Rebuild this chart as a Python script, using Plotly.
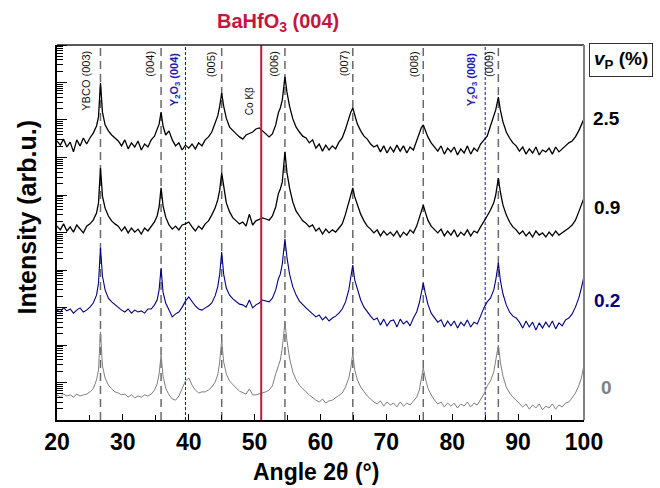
import numpy as np
import plotly.graph_objects as go

# 2-theta sampling (degrees), shared by every scan
TWO_THETA = [
    20.0, 20.5, 21.0, 21.5, 22.0, 22.5, 23.0, 23.5, 24.0, 24.5,
    25.0, 25.5, 26.0, 26.3, 26.6, 26.9, 27.3, 27.8, 28.3, 28.8,
    29.3, 29.8, 30.3, 30.8, 31.3, 31.8, 32.3, 32.8, 33.3, 33.8,
    34.3, 34.8, 35.2, 35.5, 35.8, 36.1, 36.5, 37.0, 37.5, 38.0,
    38.5, 39.0, 39.5, 40.0, 40.5, 41.0, 41.5, 42.0, 42.5, 43.0,
    43.5, 44.0, 44.4, 44.7, 45.0, 45.3, 45.7, 46.2, 46.7, 47.2,
    47.7, 48.2, 48.7, 49.2, 49.7, 50.2, 50.7, 51.2, 51.7, 52.2,
    52.7, 53.2, 53.6, 53.9, 54.2, 54.6, 54.9, 55.3, 55.8, 56.3,
    56.8, 57.3, 57.8, 58.3, 58.8, 59.3, 59.8, 60.3, 60.8, 61.3,
    61.8, 62.3, 62.8, 63.3, 63.8, 64.3, 64.6, 64.9, 65.2, 65.6,
    66.1, 66.6, 67.1, 67.6, 68.1, 68.6, 69.1, 69.6, 70.1, 70.6,
    71.1, 71.6, 72.1, 72.6, 73.1, 73.6, 74.1, 74.6, 75.0, 75.3,
    75.6, 75.9, 76.3, 76.8, 77.3, 77.8, 78.3, 78.8, 79.3, 79.8,
    80.3, 80.8, 81.3, 81.8, 82.3, 82.8, 83.3, 83.8, 84.3, 84.8,
    85.3, 85.8, 86.3, 86.6, 87.0, 87.3, 87.7, 88.2, 88.7, 89.2,
    89.7, 90.2, 90.7, 91.2, 91.7, 92.2, 92.7, 93.2, 93.7, 94.2,
    94.7, 95.2, 95.7, 96.2, 96.7, 97.2, 97.7, 98.2, 98.7, 99.2,
    99.6, 100.0,
]

# log10 intensity of each scan (before vertical stacking)
LOG_I_VP_0 = [
    1.67, 1.61, 1.69, 1.64, 1.67, 1.61, 1.69, 1.64, 1.67, 1.69,
    1.75, 1.83, 2.07, 2.33, 3.35, 2.44, 2.12, 1.93, 1.83, 1.75,
    1.72, 1.67, 1.69, 1.61, 1.67, 1.59, 1.64, 1.61, 1.67, 1.64,
    1.69, 1.80, 1.96, 2.23, 2.73, 2.17, 1.85, 1.67, 1.56, 1.53,
    1.64, 1.83, 2.04, 2.12, 1.93, 1.80, 1.72, 1.75, 1.75, 1.80,
    1.88, 2.01, 2.20, 2.55, 3.13, 2.55, 2.23, 2.04, 1.93, 1.85,
    1.77, 1.72, 1.69, 1.83, 1.67, 1.67, 1.69, 1.72, 1.75, 1.80,
    1.91, 2.23, 2.44, 2.60, 2.92, 3.61, 3.13, 2.65, 2.28, 2.07,
    1.93, 1.83, 1.75, 1.67, 1.59, 1.53, 1.48, 1.56, 1.45, 1.51,
    1.53, 1.59, 1.64, 1.72, 1.88, 2.12, 2.39, 2.79, 2.33, 2.07,
    1.88, 1.75, 1.64, 1.56, 1.48, 1.43, 1.51, 1.37, 1.48, 1.40,
    1.45, 1.35, 1.48, 1.37, 1.45, 1.40, 1.51, 1.61, 1.80, 2.07,
    2.39, 2.12, 1.85, 1.67, 1.53, 1.43, 1.48, 1.35, 1.45, 1.37,
    1.45, 1.32, 1.43, 1.37, 1.48, 1.35, 1.45, 1.40, 1.53, 1.69,
    1.91, 2.04, 2.28, 2.55, 3.00, 2.55, 2.17, 1.88, 1.72, 1.61,
    1.53, 1.45, 1.35, 1.43, 1.29, 1.40, 1.32, 1.43, 1.27, 1.37,
    1.32, 1.43, 1.29, 1.40, 1.35, 1.45, 1.48, 1.59, 1.72, 1.91,
    2.12, 2.47,
]

LOG_I_VP_02 = [
    1.63, 1.58, 1.69, 1.61, 1.66, 1.55, 1.63, 1.69, 1.58, 1.63,
    1.71, 1.82, 2.03, 2.35, 3.29, 2.54, 2.17, 1.95, 1.85, 1.77,
    1.71, 1.63, 1.58, 1.66, 1.55, 1.63, 1.58, 1.61, 1.55, 1.66,
    1.66, 1.77, 1.90, 2.17, 2.75, 2.11, 1.82, 1.61, 1.45, 1.53,
    1.58, 1.71, 1.87, 1.98, 1.85, 1.74, 1.66, 1.63, 1.69, 1.74,
    1.82, 2.01, 2.25, 2.59, 3.18, 2.59, 2.22, 2.03, 1.93, 1.85,
    1.79, 1.77, 1.71, 1.90, 1.69, 1.77, 1.82, 1.90, 1.87, 1.85,
    1.95, 2.17, 2.46, 2.59, 2.86, 3.53, 3.05, 2.59, 2.25, 2.03,
    1.87, 1.77, 1.69, 1.61, 1.53, 1.45, 1.50, 1.37, 1.45, 1.34,
    1.42, 1.47, 1.55, 1.66, 1.85, 2.17, 2.51, 2.83, 2.43, 2.17,
    1.90, 1.71, 1.58, 1.47, 1.37, 1.42, 1.23, 1.39, 1.21, 1.34,
    1.37, 1.18, 1.39, 1.26, 1.34, 1.21, 1.42, 1.58, 1.82, 2.11,
    2.35, 2.09, 1.79, 1.55, 1.42, 1.31, 1.37, 1.18, 1.34, 1.21,
    1.34, 1.15, 1.31, 1.21, 1.37, 1.18, 1.31, 1.26, 1.47, 1.69,
    1.85, 1.95, 2.17, 2.43, 2.89, 2.43, 2.06, 1.77, 1.58, 1.47,
    1.42, 1.31, 1.15, 1.34, 1.18, 1.31, 1.10, 1.29, 1.15, 1.31,
    1.18, 1.34, 1.13, 1.29, 1.21, 1.37, 1.42, 1.53, 1.71, 1.95,
    2.22, 2.54,
]

LOG_I_VP_09 = [
    1.67, 1.57, 1.73, 1.54, 1.65, 1.51, 1.70, 1.59, 1.49, 1.67,
    1.73, 1.83, 2.02, 2.29, 3.22, 2.47, 2.15, 1.94, 1.81, 1.73,
    1.67, 1.54, 1.65, 1.49, 1.62, 1.51, 1.59, 1.46, 1.62, 1.54,
    1.67, 1.78, 1.94, 2.18, 2.69, 2.21, 1.91, 1.70, 1.59, 1.67,
    1.57, 1.70, 1.73, 1.78, 1.65, 1.54, 1.67, 1.59, 1.73, 1.81,
    1.97, 2.15, 2.37, 2.63, 3.09, 2.69, 2.29, 2.05, 1.89, 1.81,
    1.73, 1.78, 1.67, 1.99, 1.70, 1.81, 1.86, 1.89, 1.86, 1.83,
    1.94, 2.18, 2.53, 2.66, 2.85, 3.65, 3.11, 2.69, 2.31, 2.07,
    1.94, 1.81, 1.75, 1.65, 1.70, 1.54, 1.62, 1.46, 1.59, 1.49,
    1.57, 1.51, 1.62, 1.73, 1.99, 2.31, 2.53, 2.69, 2.45, 2.23,
    1.99, 1.81, 1.67, 1.59, 1.49, 1.57, 1.41, 1.54, 1.43, 1.51,
    1.41, 1.54, 1.38, 1.51, 1.43, 1.57, 1.49, 1.67, 1.89, 2.10,
    2.23, 2.05, 1.83, 1.67, 1.57, 1.49, 1.59, 1.41, 1.54, 1.43,
    1.57, 1.38, 1.51, 1.43, 1.57, 1.41, 1.54, 1.49, 1.65, 1.78,
    1.94, 2.10, 2.29, 2.50, 2.95, 2.58, 2.23, 1.97, 1.78, 1.65,
    1.57, 1.46, 1.54, 1.41, 1.51, 1.38, 1.54, 1.43, 1.49, 1.38,
    1.51, 1.41, 1.54, 1.43, 1.49, 1.57, 1.62, 1.70, 1.83, 2.05,
    2.23, 2.42,
]

LOG_I_VP_25 = [
    1.64, 1.53, 1.69, 1.48, 1.61, 1.35, 1.67, 1.51, 1.72, 1.56,
    1.72, 1.85, 2.04, 2.28, 3.19, 2.41, 2.07, 1.91, 1.80, 1.72,
    1.64, 1.51, 1.67, 1.43, 1.59, 1.48, 1.64, 1.40, 1.56, 1.48,
    1.67, 1.77, 1.93, 2.09, 2.41, 2.04, 1.80, 1.91, 1.67, 1.51,
    1.59, 1.40, 1.53, 1.45, 1.56, 1.43, 1.59, 1.51, 1.67, 1.75,
    1.88, 2.09, 2.31, 2.57, 2.92, 2.57, 2.25, 2.01, 1.91, 1.83,
    1.75, 1.69, 1.80, 1.83, 1.88, 1.96, 1.99, 1.91, 1.83, 1.75,
    1.83, 2.07, 2.39, 2.52, 2.73, 3.35, 2.95, 2.57, 2.23, 2.01,
    1.88, 1.77, 1.72, 1.59, 1.67, 1.45, 1.56, 1.37, 1.53, 1.40,
    1.51, 1.43, 1.61, 1.72, 1.96, 2.28, 2.41, 2.52, 2.31, 2.09,
    1.91, 1.77, 1.69, 1.56, 1.48, 1.53, 1.35, 1.51, 1.32, 1.48,
    1.35, 1.53, 1.37, 1.51, 1.32, 1.48, 1.40, 1.64, 1.83, 1.99,
    2.07, 1.91, 1.75, 1.59, 1.48, 1.37, 1.51, 1.29, 1.45, 1.35,
    1.48, 1.27, 1.43, 1.32, 1.51, 1.29, 1.45, 1.37, 1.56, 1.67,
    1.77, 2.04, 2.28, 2.47, 2.81, 2.47, 2.15, 1.88, 1.72, 1.59,
    1.51, 1.37, 1.48, 1.29, 1.43, 1.32, 1.48, 1.27, 1.40, 1.35,
    1.45, 1.29, 1.48, 1.35, 1.43, 1.51, 1.59, 1.64, 1.75, 1.91,
    2.07, 2.23,
]

# pinning volume fraction labels, stacking shift (decades) and colours
VP_LABELS = ["0", "0.2", "0.9", "2.5"]
STACK_DECADES = [0.0, 2.3, 4.5, 6.8]
SCAN_COLORS = ["#808080", "#000080", "#000000", "#000000"]
SCAN_WIDTHS = [1.0, 1.1, 1.3, 1.3]
SCANS = [LOG_I_VP_0, LOG_I_VP_02, LOG_I_VP_09, LOG_I_VP_25]

# reflection positions (2-theta, degrees)
YBCO_PEAKS = [26.6, 35.8, 45.0, 54.6, 64.9, 75.6, 87.0]
YBCO_LABELS = ["YBCO (003)", "(004)", "(005)", "(006)", "(007)", "(008)", "(009)"]
YBCO_LABEL_X = [24.4, 34.1, 43.3, 52.95, 63.5, 74.1, 85.6]
Y2O3_PEAKS = [39.5, 85.0]
Y2O3_LABELS = ["Y<sub>2</sub>O<sub>3</sub> (004)", "Y<sub>2</sub>O<sub>3</sub> (008)"]
Y2O3_LABEL_X = [37.85, 82.95]
BHO_PEAK = 51.0
CO_KBETA_X = 49.15

FONT = "Arial, Liberation Sans, sans-serif"
BLUE = "#1c1cb0"
RED = "#c4173f"

LOG_RANGE = [1, 11]        # displayed intensity window, in decades
MARGIN = dict(l=57, r=76, t=45, b=68)
PLOT_W = 660 - MARGIN["l"] - MARGIN["r"]
PLOT_H = 488 - MARGIN["t"] - MARGIN["b"]

fig = go.Figure()

for vals, shift, color, width, lab in zip(SCANS, STACK_DECADES, SCAN_COLORS, SCAN_WIDTHS, VP_LABELS):
    y = np.power(10.0, np.array(vals) + shift)
    fig.add_trace(go.Scatter(
        x=TWO_THETA, y=y, mode="lines", name=lab,
        line=dict(color=color, width=width), showlegend=False,
    ))

shapes = []
for p in YBCO_PEAKS:
    shapes.append(dict(type="line", xref="x", yref="paper", x0=p, x1=p, y0=0, y1=1,
                       line=dict(color="#6a6a6a", width=1.5, dash="8px,5px"), layer="below"))
for p in Y2O3_PEAKS:
    shapes.append(dict(type="line", xref="x", yref="paper", x0=p, x1=p, y0=0, y1=1,
                       line=dict(color="#1010c8", width=1, dash="3px,2px"), layer="below"))
shapes.append(dict(type="line", xref="x", yref="paper", x0=BHO_PEAK, x1=BHO_PEAK, y0=0, y1=1,
                   line=dict(color=RED, width=2)))
# frame: top edge dark, right edge grey
shapes.append(dict(type="line", xref="paper", yref="paper", x0=0, x1=1, y0=1, y1=1,
                   line=dict(color="#222222", width=1.5)))
shapes.append(dict(type="line", xref="paper", yref="paper", x0=1, x1=1, y0=0, y1=1,
                   line=dict(color="#808080", width=2)))


def crisp_paper_y(frac):
    """Paper y of a 1px tick, nudged onto a pixel centre so it renders sharp."""
    py = MARGIN["t"] + (1.0 - frac) * PLOT_H
    py = np.floor(py) + 0.5
    return 1.0 - (py - MARGIN["t"]) / PLOT_H


# logarithmic inward ticks on the intensity axis (decades long, 2..9 short)
span = LOG_RANGE[1] - LOG_RANGE[0]
for k in range(LOG_RANGE[0], LOG_RANGE[1] + 1):
    yp = crisp_paper_y((k - LOG_RANGE[0]) / span)
    shapes.append(dict(type="line", xref="paper", yref="paper", x0=0, x1=10 / PLOT_W,
                       y0=yp, y1=yp, line=dict(color="#000000", width=1)))
    if k < LOG_RANGE[1]:
        for m in range(2, 10):
            ym = crisp_paper_y((k + np.log10(m) - LOG_RANGE[0]) / span)
            shapes.append(dict(type="line", xref="paper", yref="paper", x0=0, x1=6 / PLOT_W,
                               y0=ym, y1=ym, line=dict(color="#000000", width=1)))

ann = []
for lab, xp in zip(YBCO_LABELS, YBCO_LABEL_X):
    ann.append(dict(text=lab, x=xp, xref="x", y=0.99, yref="paper", textangle=-90,
                    xanchor="center", yanchor="top", showarrow=False,
                    font=dict(family=FONT, size=11, color="#111111")))
for lab, xp in zip(Y2O3_LABELS, Y2O3_LABEL_X):
    ann.append(dict(text="<b>" + lab + "</b>", x=xp, xref="x", y=0.985, yref="paper",
                    textangle=-90, xanchor="center", yanchor="top", showarrow=False,
                    font=dict(family=FONT, size=11, color=BLUE)))
ann.append(dict(text="Co Kβ", x=CO_KBETA_X, xref="x", y=0.893, yref="paper", textangle=-90,
                xanchor="center", yanchor="top", showarrow=False,
                font=dict(family=FONT, size=10, color="#111111")))
ann.append(dict(text="<b>BaHfO<sub>3</sub> (004)</b>", x=0.42, xref="paper", y=1.06,
                yref="paper", xanchor="center", yanchor="middle", showarrow=False,
                font=dict(family=FONT, size=20, color=RED)))

# stacked-scan labels on the right
LABEL_Y = [0.088, 0.32, 0.568, 0.805]
for lab, color, yp in zip(VP_LABELS, SCAN_COLORS, LABEL_Y):
    ann.append(dict(text="<b>" + lab + "</b>", x=1.0436, xref="paper", y=yp, yref="paper",
                    xanchor="center", yanchor="middle", showarrow=False,
                    font=dict(family=FONT, size=19, color=color)))
ann.append(dict(text="<b><i>v</i><sub>P</sub> (%)</b>", x=1.07, xref="paper", y=0.96,
                yref="paper", xanchor="center", yanchor="middle", showarrow=False,
                bordercolor="#333333", borderwidth=1, borderpad=4,
                font=dict(family=FONT, size=19, color="#000000")))

# axis titles
ann.append(dict(text="<b>Intensity (arb.u.)</b>", x=-0.057, xref="paper", y=0.54,
                yref="paper", textangle=-90, xanchor="center", yanchor="middle",
                showarrow=False, font=dict(family=FONT, size=25, color="#000000")))
ann.append(dict(text="<b>Angle 2θ (°)</b>", x=0.492, xref="paper", y=-0.139,
                yref="paper", xanchor="center", yanchor="middle", showarrow=False,
                font=dict(family=FONT, size=23, color="#000000")))

fig.update_layout(
    width=660, height=488,
    margin=MARGIN,
    paper_bgcolor="white", plot_bgcolor="white",
    shapes=shapes, annotations=ann,
    xaxis=dict(
        range=[20, 100], tickmode="array", tickvals=list(range(20, 101, 10)),
        ticks="inside", ticklen=6, tickwidth=1.3, tickcolor="#000000",
        minor=dict(tickmode="array", tickvals=list(range(25, 100, 10)),
                   ticks="inside", ticklen=5, tickwidth=1.3, tickcolor="#000000", showgrid=False),
        showline=True, linecolor="#000000", linewidth=2, mirror=False,
        showgrid=False, zeroline=False,
        tickfont=dict(family=FONT, size=23, color="#000000", weight="bold"),
    ),
    yaxis=dict(
        type="log", range=LOG_RANGE, ticks="", showticklabels=False,
        showline=True, linecolor="#000000", linewidth=2, mirror=False,
        showgrid=False, zeroline=False,
    ),
)

fig.write_html("out.html")
